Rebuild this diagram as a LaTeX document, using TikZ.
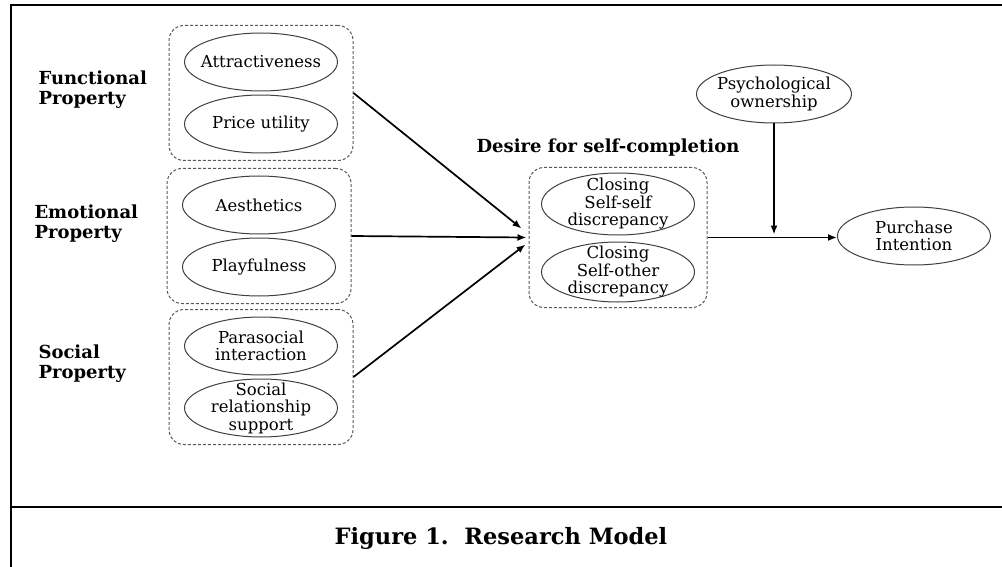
\documentclass[tikz,border=0pt]{standalone}
\usepackage{fontspec}
\setmainfont{DejaVu Serif}
\usetikzlibrary{shapes.geometric,fit,arrows.meta}

\tikzset{
  txt/.style={align=center, font=\fontsize{16.5}{17.5}\selectfont},
  ell/.style={ellipse, draw=black!75, line width=1pt, minimum width=153pt,
    minimum height=58pt, inner sep=0pt, label={[txt]center:#1}},
  grp/.style={draw=black!65, dash pattern=on 3pt off 2pt, rounded corners=15pt,
    line width=1pt, inner xsep=15pt, inner ysep=7pt},
  prop/.style={anchor=west, align=left, font=\bfseries\fontsize{18}{20}\selectfont},
  link/.style={->, line width=1.7pt},
}

\begin{document}
\begin{tikzpicture}[x=1pt, y=-1pt, >={Latex[length=9pt,width=7pt]}]
    \useasboundingbox (0,0) rectangle (1002,567);

    % Frame and caption
    \draw[line width=2.7pt] (10,5) -- (1002,5);
    \draw[line width=2.7pt] (11,5) -- (11,567);
    \draw[line width=2.7pt] (11,507) -- (1002,507);
    \node[font=\bfseries\fontsize{22.5}{26}\selectfont] (cap) at (501,538) {Figure 1.\ \ Research Model};

    % Properties
    \node[prop] (funclbl) at (35,90) {Functional\\Property};
    \node[prop] (emolbl) at (31,224) {Emotional\\Property};
    \node[prop] (soclbl) at (35,364) {Social\\Property};

    \node[ell={Attractiveness}] (attr) at (261,62) {};
    \node[ell={Price utility}] (price) at (261,124) {};
    \node[grp, fit=(attr)(price)] (func) {};

    \node[ell={Aesthetics}] (aest) at (259,205) {};
    \node[ell={Playfulness}] (play) at (259,267) {};
    \node[grp, fit=(aest)(play)] (emo) {};

    \node[ell={Parasocial\\interaction}] (para) at (261,346) {};
    \node[ell={Social\\relationship\\support}] (srs) at (261,408) {};
    \node[grp, fit=(para)(srs)] (soc) {};

    % Desire for self-completion
    \node[ell={Closing\\Self-self\\discrepancy}, minimum height=62pt] (selfself) at (618,204) {};
    \node[ell={Closing\\Self-other\\discrepancy}, minimum height=60pt] (selfother) at (618,272) {};
    \node[grp, inner xsep=12pt, inner ysep=5pt, fit=(selfself)(selfother)] (desire) {};
    \node[font=\bfseries\fontsize{18}{20}\selectfont] (desirelbl) at (608,148) {Desire for self-completion};

    % Outcome and moderator
    \node[ell={Purchase\\Intention}] (purchase) at (914,236) {};
    \node[ell={Psychological\\ownership}, minimum width=155pt] (owner) at (774,94) {};

    % Paths
    \draw[link] (func.east) -- ([xshift=-7pt,yshift=9pt]desire.west);
    \draw[link] (emo.east) -- ([xshift=-2pt]desire.west);
    \draw[link] (soc.east) -- ([xshift=-3pt,yshift=-7pt]desire.west);
    \draw[link] (desire.east) -- (desire.east -| purchase.west);
    \draw[link, shorten >=3pt] (owner.south) -- (owner.south |- desire.east);
\end{tikzpicture}
\end{document}
